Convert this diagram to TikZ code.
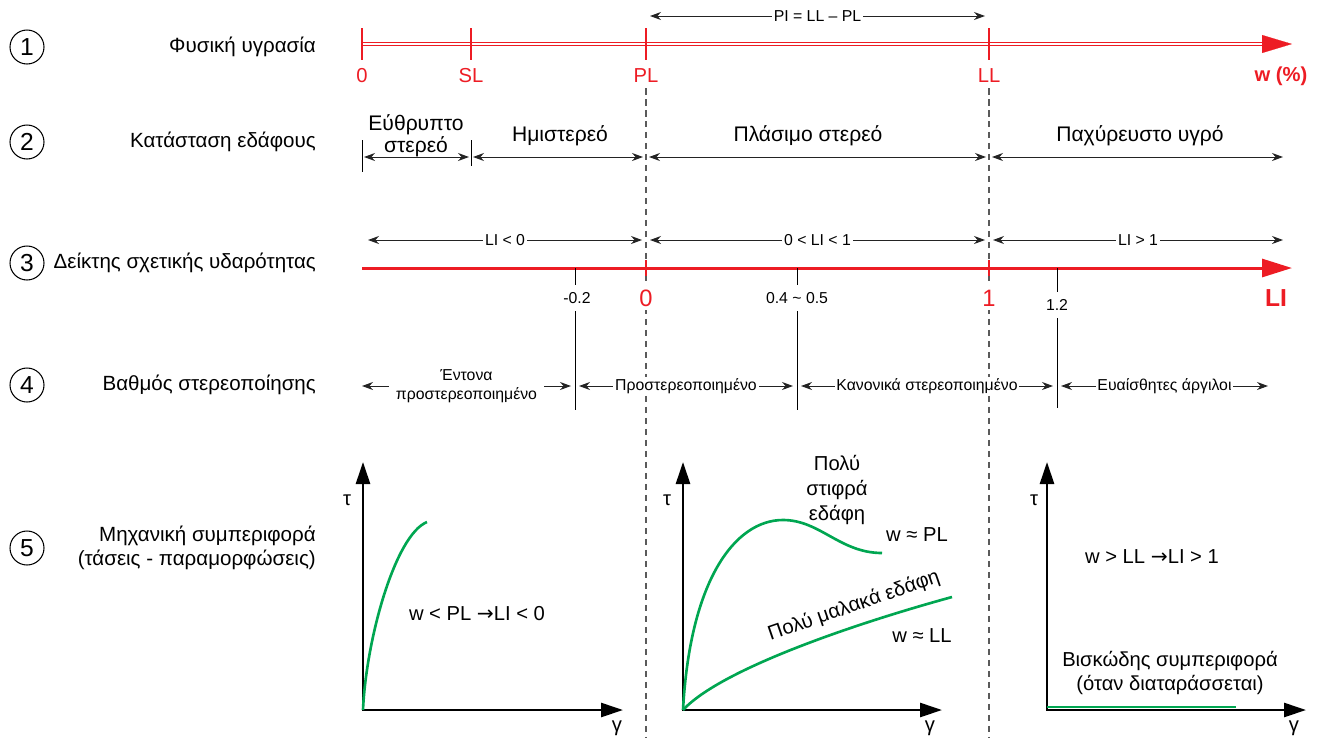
\documentclass[tikz,border=0pt]{standalone}
\usepackage{fontspec}
\setmainfont{Liberation Sans}
\newfontfamily\symfont{DejaVu Sans}
\usepackage{xcolor}
\definecolor{soilred}{RGB}{237,28,36}
\definecolor{soilgreen}{RGB}{0,166,81}
\definecolor{dimgray}{RGB}{35,35,35}
\definecolor{guidegray}{RGB}{90,90,90}
\usetikzlibrary{arrows.meta}
\newcommand{\goesto}{{\symfont →}}

\begin{document}
\begin{tikzpicture}[
  x=0.02cm, y=-0.02cm,
  num/.style={draw, circle, minimum size=0.68cm, inner sep=0pt, line width=0.6pt,
              font=\fontsize{14}{14}\selectfont},
  rowlbl/.style={anchor=east, align=right, font=\fontsize{11.7}{13.5}\selectfont},
  txt/.style={align=center, inner sep=1pt, font=\fontsize{11.5}{14}\selectfont},
  state/.style={align=center, inner sep=1pt, font=\fontsize{12}{14}\selectfont},
  small/.style={align=center, fill=white, inner sep=1pt, font=\fontsize{9}{11}\selectfont},
  tickval/.style={fill=white, inner xsep=1pt, inner ysep=4pt, font=\fontsize{9}{11}\selectfont},
  redlbl/.style={text=soilred, inner sep=1pt, font=\fontsize{11.5}{12}\selectfont},
  bigred/.style={text=soilred, fill=white, inner sep=2pt, font=\fontsize{13.5}{13.5}\selectfont},
  dim/.style={{Stealth[length=0.22cm,width=0.16cm]}-{Stealth[length=0.22cm,width=0.16cm]},
              draw=dimgray, line width=0.55pt},
  redtick/.style={draw=soilred, line width=1pt},
  blacktick/.style={draw=black, line width=0.5pt},
  guide/.style={draw=guidegray, line width=0.7pt, dash pattern=on 0.13cm off 0.09cm},
  axes/.style={{Triangle[length=0.44cm,width=0.28cm]}-{Triangle[length=0.44cm,width=0.28cm]},
               line width=1.5pt},
  curve/.style={draw=soilgreen, line width=1.5pt},
]
\useasboundingbox (0,0) rectangle (1318,738);

% --- Guides through PL and LL ---
\coordinate (gPLa) at (646,88);
\coordinate (gPLb) at (646,738);
\coordinate (gLLa) at (989,88);
\coordinate (gLLb) at (989,738);
\draw[guide] (gPLa) -- (gPLb);
\draw[guide] (gLLa) -- (gLLb);

% --- Row labels ---
\node[num] (c1) at (27,47) {1};
\node[rowlbl] (r1) at (322,47) {Φυσική υγρασία};
\node[num] (c2) at (27,142) {2};
\node[rowlbl] (r2) at (322,142) {Κατάσταση εδάφους};
\node[num] (c3) at (27,263) {3};
\node[rowlbl] (r3) at (322,263) {Δείκτης σχετικής υδαρότητας};
\node[num] (c4) at (27,385) {4};
\node[rowlbl] (r4) at (322,385) {Βαθμός στερεοποίησης};
\node[num] (c5) at (27,548) {5};
\node[rowlbl] (r5) at (322,548) {Μηχανική συμπεριφορά\\(τάσεις - παραμορφώσεις)};

% --- Row 1: water content ---
\coordinate (w0) at (362,44);
\coordinate (wEnd) at (1262,44);
\coordinate (wTip) at (1292,44);
\draw[draw=soilred, line width=0.6pt, double=white, double distance=1pt] (w0) -- (wEnd);
\draw[soilred, line width=0.1pt, -{Triangle[length=0.6cm,width=0.36cm]}] (wEnd) -- (wTip);
\foreach \x/\n in {362/0, 471/SL, 646/PL, 989/LL} {
  \draw[redtick] (\x,28) -- (\x,60);
  \node[redlbl] (t\n) at (\x,76) {\n};
}
\node[redlbl, font=\fontsize{11.5}{12}\selectfont\bfseries] (wlbl) at (1281,76) {w (\%)};

\coordinate (pi1) at (650,16);
\coordinate (pi2) at (985,16);
\draw[dim] (pi1) -- (pi2) node[midway, small] (pilbl) {PI = LL – PL};

% --- Row 2: soil state ---
\draw[blacktick] (362,140) -- (362,172);
\draw[blacktick] (471,140) -- (471,166);
\coordinate (s0) at (364,157);
\coordinate (s1a) at (469,157);
\coordinate (s1b) at (473,157);
\coordinate (s2a) at (643,157);
\coordinate (s2b) at (649,157);
\coordinate (s3a) at (986,157);
\coordinate (s3b) at (992,157);
\coordinate (s4) at (1283,157);
\draw[dim] (s0) -- (s1a);
\draw[dim] (s1b) -- (s2a);
\draw[dim] (s2b) -- (s3a);
\draw[dim] (s3b) -- (s4);
\node[state, font=\fontsize{12}{12.5}\selectfont] (brittle) at (416,136) {Εύθρυπτο\\στερεό};
\node[state] (semi) at (560,136) {Ημιστερεό};
\node[state] (plastic) at (808,136) {Πλάσιμο στερεό};
\node[state] (liquid) at (1140,136) {Παχύρευστο υγρό};

% --- Row 3: liquidity index ---
\coordinate (l0) at (368,240);
\coordinate (l1a) at (642,240);
\coordinate (l1b) at (650,240);
\coordinate (l2a) at (985,240);
\coordinate (l2b) at (993,240);
\coordinate (l3) at (1283,240);
\draw[dim] (l0) -- (l1a) node[midway, small] (ltneg) {LI < 0};
\draw[dim] (l1b) -- (l2a) node[midway, small] (ltmid) {0 < LI < 1};
\draw[dim] (l2b) -- (l3) node[midway, small] (ltpos) {LI > 1};

\coordinate (li0) at (362,268);
\coordinate (liTip) at (1292,268);
\draw[soilred, line width=1.7pt, -{Triangle[length=0.6cm,width=0.36cm]}] (li0) -- (liTip);
\draw[redtick] (646,260) -- (646,276);
\draw[redtick] (989,260) -- (989,276);
\node[bigred] (z0) at (646,298) {0};
\node[bigred] (z1) at (989,298) {1};
\node[bigred, font=\fontsize{14}{14}\selectfont\bfseries] (lilbl) at (1276,298) {LI};

\draw[blacktick] (575,268) -- (575,410);
\draw[blacktick] (797,268) -- (797,410);
\draw[blacktick] (1057,268) -- (1057,408);
\node[tickval] (vm02) at (577,298) {-0.2};
\node[tickval] (v045) at (797,298) {0.4 \textasciitilde{} 0.5};
\node[tickval] (v12) at (1057,305) {1.2};

% --- Row 4: consolidation ---
\coordinate (k0) at (362,386);
\coordinate (k1a) at (571,386);
\coordinate (k1b) at (579,386);
\coordinate (k2a) at (793,386);
\coordinate (k2b) at (801,386);
\coordinate (k3a) at (1053,386);
\coordinate (k3b) at (1061,386);
\coordinate (k4) at (1268,386);
\draw[dim] (k0) -- (k1a) node[midway, small, inner xsep=4pt] (heavy) {Έντονα\\προστερεοποιημένο};
\draw[dim] (k1b) -- (k2a) node[midway, small] (over) {Προστερεοποιημένο};
\draw[dim] (k2b) -- (k3a) node[midway, small] (normal) {Κανονικά στερεοποιημένο};
\draw[dim] (k3b) -- (k4) node[midway, small] (quick) {Ευαίσθητες άργιλοι};

% --- Row 5: stress-strain sketches ---
\coordinate (o1) at (363,710);
\coordinate (ya1) at (363,462);
\coordinate (xa1) at (623,710);
\draw[axes] (ya1) -- (o1) -- (xa1);
\node[txt] (tau1) at (347,500) {τ};
\node[txt] (gam1) at (617,728) {γ};
\draw[curve] (o1) .. controls (366,640) and (395,535) .. (427,522);
\node[txt] (g1txt) at (477,614) {w < PL \goesto LI < 0};

\coordinate (o2) at (683,710);
\coordinate (ya2) at (683,462);
\coordinate (xa2) at (942,710);
\draw[axes] (ya2) -- (o2) -- (xa2);
\node[txt] (tau2) at (667,500) {τ};
\node[txt] (gam2) at (930,728) {γ};
\draw[curve] (o2) .. controls (690,580) and (735,520) .. (783,520)
  .. controls (820,520) and (840,553) .. (882,553);
\draw[curve] (o2) .. controls (720,670) and (850,625) .. (952,597);
\node[txt] (stiff) at (837,490) {Πολύ\\στιφρά\\εδάφη};
\node[txt] (wpl) at (917,535) {w ≈ PL};
\node[txt] (wll) at (922,636) {w ≈ LL};
\node[txt, rotate=19] (soft) at (854,606) {Πολύ μαλακά εδάφη};

\coordinate (o3) at (1047,710);
\coordinate (ya3) at (1047,462);
\coordinate (xa3) at (1306,710);
\draw[axes] (ya3) -- (o3) -- (xa3);
\node[txt] (tau3) at (1034,500) {τ};
\node[txt] (gam3) at (1294,728) {γ};
\coordinate (v0) at (1047,707);
\coordinate (v1) at (1236,707);
\draw[soilgreen, line width=1.5pt] (v0) -- (v1);
\node[txt] (g3txt) at (1152,557) {w > LL \goesto LI > 1};
\node[txt] (visc) at (1170,673) {Βισκώδης συμπεριφορά\\(όταν διαταράσσεται)};
\end{tikzpicture}
\end{document}
